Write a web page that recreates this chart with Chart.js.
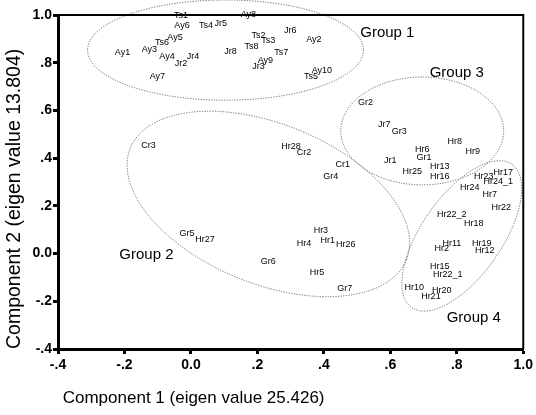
<!DOCTYPE html>
<html>
<head>
<meta charset="utf-8">
<script src="https://cdn.jsdelivr.net/npm/chart.js@4.4.0/dist/chart.umd.min.js"></script>
<style>
  html, body { margin: 0; padding: 0; background: #fff; }
  #wrap { width: 536px; height: 415px; }
</style>
</head>
<body>
<div id="wrap"><canvas id="pca"></canvas></div>
<script>
// data
const pointNames = [
  "Ts1","Ay6","Ts4","Jr5","Ay8","Ay5","Ts6","Ay3","Ay1","Ay4","Jr4","Jr2","Ay7","Jr8",
  "Ts2","Ts3","Jr6","Ay2","Ts8","Ts7","Ay9","Jr3","Ay10","Ts5",
  "Gr2","Jr7","Gr3","Hr8","Hr6","Gr1","Jr1","Hr9","Hr13","Hr25","Hr16",
  "Hr23","Hr17","Hr24_1","Hr24","Hr7","Hr22","Hr22_2","Hr18","Hr11","Hr2","Hr19","Hr12",
  "Hr15","Hr22_1","Hr10","Hr20","Hr21",
  "Cr3","Hr28","Cr2","Cr1","Gr4","Gr5","Hr27","Hr3","Hr4","Hr1","Hr26","Gr6","Hr5","Gr7"
];
const comp1 = [
  -0.030,-0.027,0.045,0.090,0.173,-0.048,-0.087,-0.125,-0.206,-0.072,0.006,-0.030,-0.101,0.119,
  0.203,0.233,0.299,0.370,0.182,0.272,0.224,0.203,0.394,0.361,
  0.525,0.582,0.627,0.794,0.696,0.701,0.600,0.848,0.749,0.666,0.749,
  0.881,0.940,0.925,0.839,0.899,0.934,0.785,0.851,0.785,0.755,0.875,0.884,
  0.749,0.773,0.672,0.755,0.722,
  -0.128,0.301,0.340,0.457,0.421,-0.012,0.042,0.391,0.340,0.412,0.466,0.233,0.379,0.463
];
const comp2 = [
  0.996,0.958,0.958,0.966,1.000,0.904,0.883,0.857,0.841,0.824,0.824,0.795,0.744,0.849,
  0.916,0.895,0.933,0.899,0.866,0.841,0.811,0.782,0.769,0.744,
  0.635,0.543,0.510,0.468,0.438,0.401,0.392,0.426,0.363,0.346,0.321,
  0.321,0.338,0.300,0.275,0.246,0.191,0.162,0.128,0.044,0.023,0.044,0.011,
  -0.056,-0.086,-0.144,-0.153,-0.182,
  0.455,0.447,0.422,0.375,0.325,0.086,0.061,0.095,0.044,0.053,0.036,-0.035,-0.081,-0.148
];
const tickValues = [-0.4, -0.2, 0.0, 0.2, 0.4, 0.6, 0.8, 1.0];
const tickLabels = ["-.4", "-.2", "0.0", ".2", ".4", ".6", ".8", "1.0"];
const groupNames = ["Group 1", "Group 2", "Group 3", "Group 4"];

// outline of each group (data units, angle in degrees) and where its name sits
const groupShapes = [
  { cx: 0.104, cy: 0.853, a: 0.415, b: 0.210, rot: 0,   tx: 0.591,  ty: 0.925 },
  { cx: 0.233, cy: 0.208, a: 0.448, b: 0.335, rot: 22,  tx: -0.134, ty: -0.006 },
  { cx: 0.696, cy: 0.514, a: 0.245, b: 0.226, rot: 0,   tx: 0.800,  ty: 0.757 },
  { cx: 0.815, cy: 0.074, a: 0.263, b: 0.168, rot: -55, tx: 0.851,  ty: -0.270 }
];

const FONT = "Arial, 'Liberation Sans', sans-serif";

const groupPlugin = {
  id: "groups",
  beforeDatasetsDraw(chart) {
    const { ctx, scales: { x, y } } = chart;
    const ux = x.getPixelForValue(1) - x.getPixelForValue(0);
    const uy = y.getPixelForValue(0) - y.getPixelForValue(1);
    ctx.save();
    ctx.strokeStyle = "#666";
    ctx.lineWidth = 1;
    ctx.setLineDash([1.2, 1.4]);
    groupShapes.forEach(g => {
      ctx.beginPath();
      ctx.ellipse(x.getPixelForValue(g.cx), y.getPixelForValue(g.cy), g.a * ux, g.b * uy, g.rot * Math.PI / 180, 0, Math.PI * 2);
      ctx.stroke();
    });
    ctx.setLineDash([]);
    ctx.fillStyle = "#000";
    ctx.font = "15px " + FONT;
    ctx.textAlign = "center";
    ctx.textBaseline = "middle";
    groupShapes.forEach((g, i) => {
      ctx.fillText(groupNames[i], x.getPixelForValue(g.tx), y.getPixelForValue(g.ty));
    });
    ctx.restore();
  },
  afterDatasetsDraw(chart) {
    const ctx = chart.ctx;
    const meta = chart.getDatasetMeta(0);
    ctx.save();
    ctx.fillStyle = "#000";
    ctx.font = "9px " + FONT;
    ctx.textAlign = "center";
    ctx.textBaseline = "middle";
    meta.data.forEach((pt, i) => ctx.fillText(pointNames[i], pt.x, pt.y));
    ctx.restore();
  },
  afterDraw(chart) {
    const { ctx, chartArea: a } = chart;
    ctx.save();
    ctx.strokeStyle = "#000";
    ctx.lineWidth = 2;
    ctx.beginPath();
    ctx.moveTo(a.left, a.top);
    ctx.lineTo(a.right, a.top);
    ctx.lineTo(a.right, a.bottom);
    ctx.stroke();
    ctx.restore();
  }
};

const axisTicks = scale => { scale.ticks = tickValues.map(v => ({ value: v })); };
const tickText = v => {
  const i = tickValues.findIndex(t => Math.abs(t - v) < 1e-6);
  return i >= 0 ? tickLabels[i] : "";
};

new Chart(document.getElementById("pca"), {
  type: "scatter",
  data: {
    datasets: [{
      data: comp1.map((v, i) => ({ x: v, y: comp2[i] })),
      pointRadius: 0,
      pointHoverRadius: 0
    }]
  },
  options: {
    responsive: true,
    maintainAspectRatio: false,
    animation: false,
    devicePixelRatio: 1,
    layout: { padding: { top: 15, right: 9, left: 0, bottom: 0 } },
    plugins: { legend: { display: false }, tooltip: { enabled: false } },
    scales: {
      x: {
        type: "linear", min: -0.4, max: 1.0,
        afterBuildTicks: axisTicks,
        afterFit(s) { s.height = 66; },
        grid: { drawOnChartArea: false, drawTicks: true, tickLength: 5, tickWidth: 3, color: "#000" },
        border: { display: true, width: 3, color: "#000" },
        ticks: { callback: tickText, font: { family: FONT, size: 14, weight: "bold" }, color: "#000", padding: 3, maxRotation: 0 },
        title: { display: true, text: " Component 1 (eigen value 25.426)", align: "start", color: "#000",
                 font: { family: FONT, size: 17 }, padding: { top: 6, bottom: 6 } }
      },
      y: {
        type: "linear", min: -0.4, max: 1.0,
        afterBuildTicks: axisTicks,
        afterFit(s) { s.width = 58; },
        grid: { drawOnChartArea: false, drawTicks: true, tickLength: 5, tickWidth: 3, color: "#000" },
        border: { display: true, width: 3, color: "#000" },
        ticks: { callback: tickText, font: { family: FONT, size: 14, weight: "bold" }, color: "#000", padding: 1 },
        title: { display: true, text: "Component 2 (eigen value 13.804)", align: "start", color: "#000",
                 font: { family: FONT, size: 19.5 }, padding: { top: 3, bottom: 3 } }
      }
    }
  },
  plugins: [groupPlugin]
});
</script>
</body>
</html>
